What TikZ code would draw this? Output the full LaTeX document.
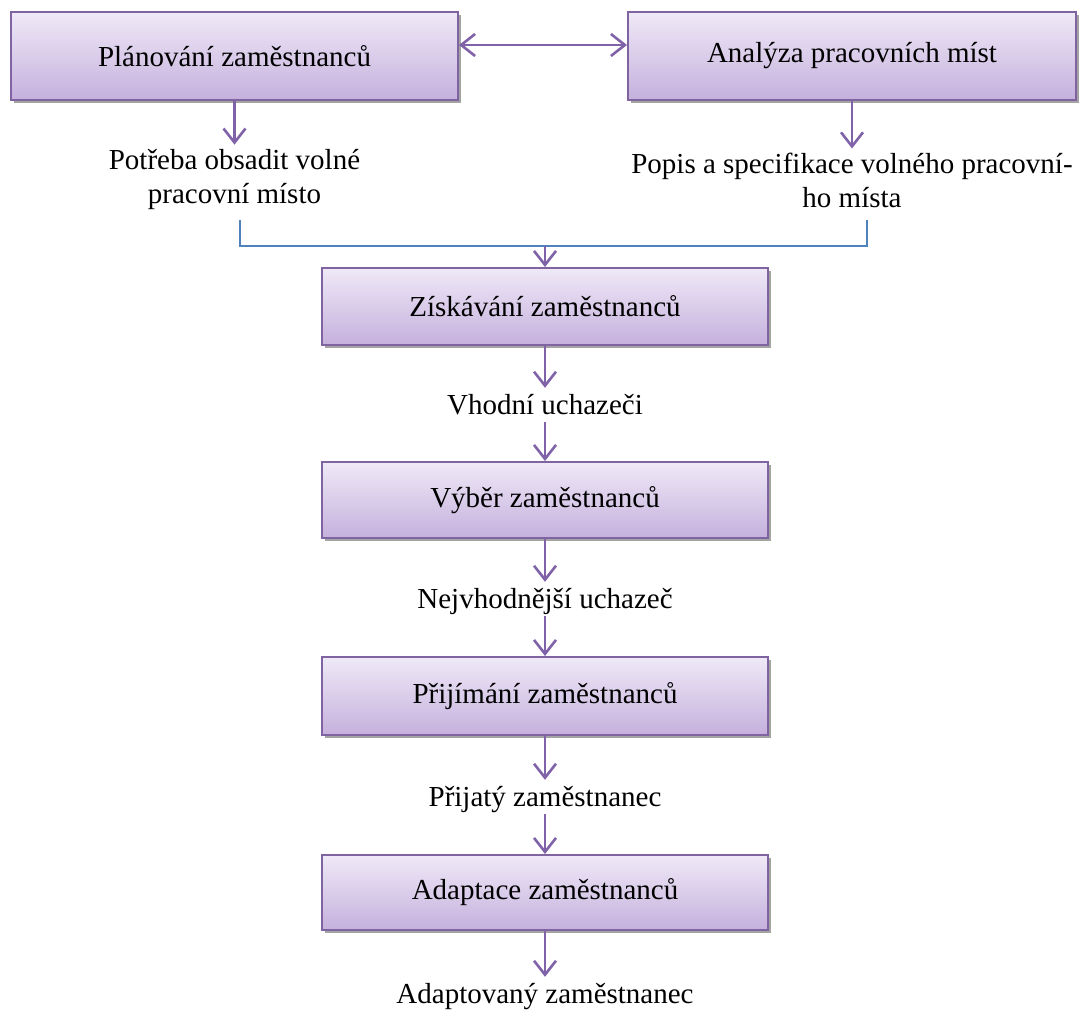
\documentclass[tikz,border=0pt]{standalone}
\usepackage{fontspec}
\setmainfont{Liberation Serif}
\usetikzlibrary{arrows.meta,shadows}
\definecolor{boxborder}{HTML}{8064A2}
\definecolor{boxtop}{HTML}{EFE9F7}
\definecolor{boxbot}{HTML}{C5B0DD}
\definecolor{arrowc}{HTML}{7F62A8}
\definecolor{bracketc}{HTML}{4F81BD}
\tikzset{
  procbox/.style={draw=boxborder, line width=2pt, top color=boxtop, bottom color=boxbot,
    drop shadow={shadow xshift=3pt, shadow yshift=-3pt, fill=black!45, opacity=0.8},
    font=\fontsize{29}{32}\selectfont, inner sep=0pt, align=center},
  lbl/.style={font=\fontsize{29}{34}\selectfont, align=center, inner sep=4pt},
  lbl1/.style={lbl, text height=22pt, text depth=4pt},
  flow/.style={draw=arrowc, line width=2.6pt, -{Straight Barb[length=14pt, width=22pt, line width=2.6pt]}},
  flow2/.style={draw=arrowc, line width=2.6pt, {Straight Barb[length=14pt, width=22pt, line width=2.6pt]}-{Straight Barb[length=14pt, width=22pt, line width=2.6pt]}},
  brk/.style={draw=bracketc, line width=1.5pt}
}
\begin{document}
\begin{tikzpicture}[x=1pt,y=-1pt]
\useasboundingbox (0,0) rectangle (1086,1016);
% top boxes
\node[procbox, minimum width=447pt, minimum height=88pt] (b1) at (234.5,56) {Plánování zaměstnanců};
\node[procbox, minimum width=448pt, minimum height=88pt] (b2) at (852,56) {Analýza pracovních míst};
\draw[flow2] (b1.east |- 0,45) -- (b2.west |- 0,45);
% top labels
\node[lbl] (t1) at (234.5,179) {Potřeba obsadit volné\\pracovní místo};
\node[lbl] (t2) at (852,180) {Popis a specifikace volného pracovní-\\ho místa};
\draw[flow] (b1.south) -- (t1.north);
\draw[flow] (b2.south) -- (t2.north);
% bracket
\coordinate (bl) at (240,220);
\coordinate (br) at (867,220);
\coordinate (bm) at (545,246);
\draw[brk] (bl) |- (bm) -| (br);
% middle chain
\node[procbox, minimum width=446pt, minimum height=77pt] (b3) at (545,306.5) {Získávání zaměstnanců};
\draw[flow] (bm) -- (b3.north);
\node[lbl1] (v1) at (545,405) {Vhodní uchazeči};
\node[procbox, minimum width=446pt, minimum height=76pt] (b4) at (545,500) {Výběr zaměstnanců};
\node[lbl1] (v2) at (545,599) {Nejvhodnější uchazeč};
\node[procbox, minimum width=446pt, minimum height=78pt] (b5) at (545,696) {Přijímání zaměstnanců};
\node[lbl1] (v3) at (545,797) {Přijatý zaměstnanec};
\node[procbox, minimum width=446pt, minimum height=75pt] (b6) at (545,892.5) {Adaptace zaměstnanců};
\node[lbl1] (v4) at (545,994) {Adaptovaný zaměstnanec};
\draw[flow] (b3.south) -- (v1.north);
\draw[flow] (v1.south) -- (b4.north);
\draw[flow] (b4.south) -- (v2.north);
\draw[flow] (v2.south) -- (b5.north);
\draw[flow] (b5.south) -- (v3.north);
\draw[flow] (v3.south) -- (b6.north);
\draw[flow] (b6.south) -- (v4.north);
\end{tikzpicture}
\end{document}
